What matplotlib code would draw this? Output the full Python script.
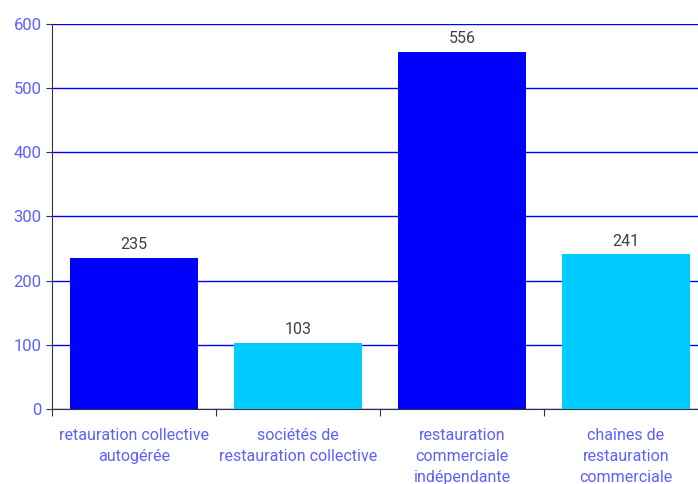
import matplotlib
matplotlib.use("Agg")
import matplotlib.pyplot as plt
import numpy as np

# donnees
categories = ["retauration collective\nautogérée",
              "sociétés de\nrestauration collective",
              "restauration\ncommerciale\nindépendante",
              "chaînes de\nrestauration\ncommerciale"]
valeurs = [235, 103, 556, 241]
couleurs = ["#0000FF", "#00CCFF", "#0000FF", "#00CCFF"]

plt.rcParams['font.family'] = ['Roboto', 'DejaVu Sans']

fig = plt.figure(figsize=(6.98, 4.84), dpi=100)
ax = fig.add_axes([52 / 698, 1 - 409 / 484, 656 / 698, 385 / 484])

x = np.arange(len(categories))
barres = ax.bar(x, valeurs, width=0.775, color=couleurs, zorder=3)
for b, v in zip(barres, valeurs):
    ax.text(b.get_x() + b.get_width() / 2, v + 9, str(v), ha="center", va="bottom",
            fontsize=11.5, color="#404040")

ax.set_xlim(-0.5, len(categories) - 0.5)
ax.set_ylim(0, 600)
ax.set_yticks(range(0, 601, 100))
ax.yaxis.grid(True, color="#0000FF", linewidth=1, zorder=0)
ax.set_axisbelow(True)

# ticks de l'axe x aux limites des categories
ax.set_xticks(np.arange(-0.5, len(categories), 1))
ax.set_xticklabels([])
ax.set_xticks(x, minor=True)
ax.set_xticklabels(categories, minor=True, fontsize=11.5, color="#5F5FFF", linespacing=1.5)
ax.tick_params(axis="x", which="minor", length=0, pad=14)
ax.tick_params(axis="x", which="major", length=5, color="#333333")
ax.tick_params(axis="y", length=4, color="#333333", labelsize=12, labelcolor="#5F5FFF")

for s in ["top", "right"]:
    ax.spines[s].set_visible(False)
ax.spines["left"].set_color("#333333")
ax.spines["bottom"].set_color("#333333")

fig.savefig("out.png", dpi=100)
